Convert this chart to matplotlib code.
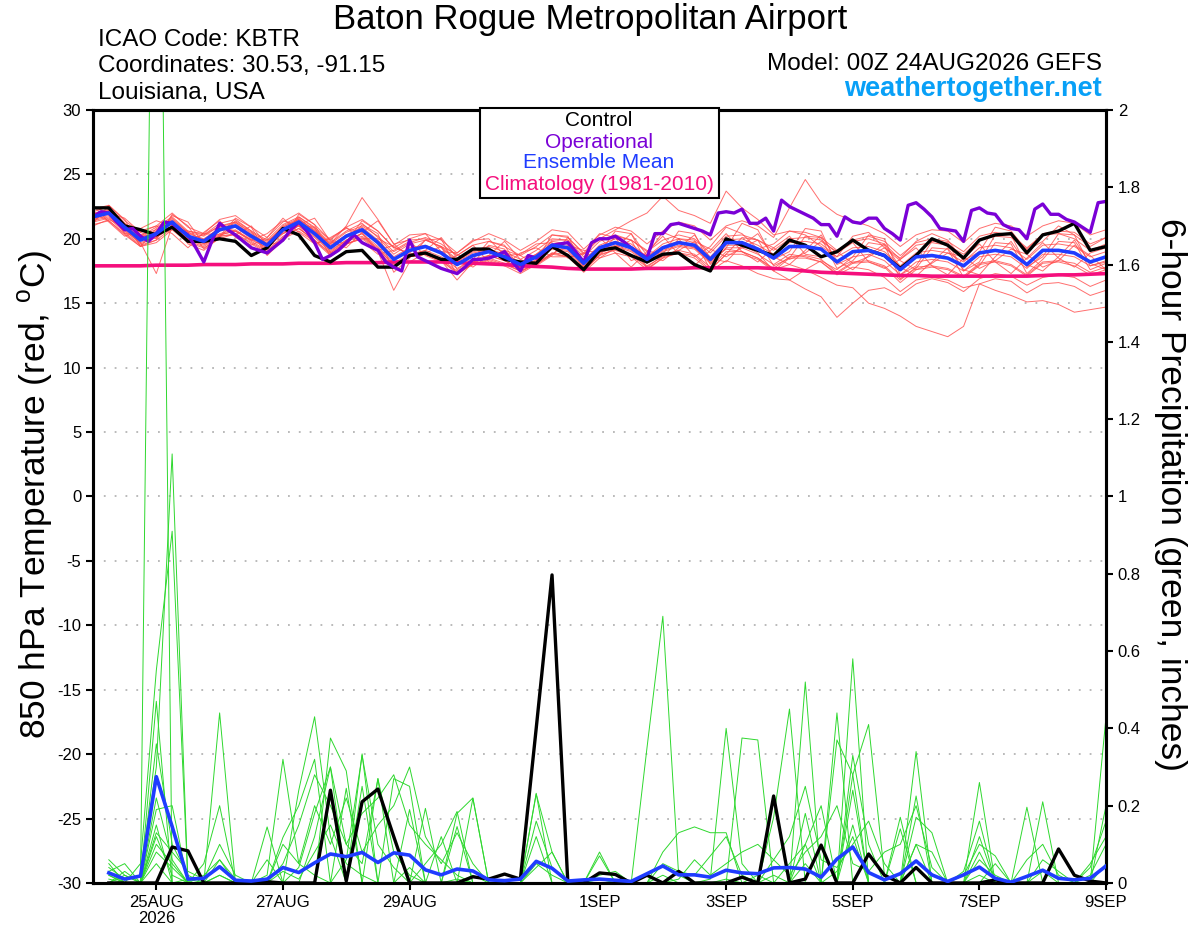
import numpy as np
import pandas as pd
import matplotlib.pyplot as plt
from matplotlib.patches import Rectangle

plt.rcParams['font.family'] = ['Liberation Sans', 'DejaVu Sans']
plt.rcParams['mathtext.fontset'] = 'custom'
plt.rcParams['mathtext.rm'] = 'Liberation Sans'
plt.rcParams['axes.unicode_minus'] = False

# time axes
temp_times = pd.date_range('2026-08-24 00:00', '2026-09-09 00:00', freq='6h')
oper_times = pd.date_range('2026-08-24 00:00', '2026-09-09 00:00', freq='3h')
precip_times = pd.date_range('2026-08-24 06:00', '2026-09-09 00:00', freq='6h')

tick_dates = pd.to_datetime(['2026-08-25', '2026-08-27', '2026-08-29', '2026-09-01',
                             '2026-09-03', '2026-09-05', '2026-09-07', '2026-09-09'])
tick_labels = ['25AUG\n2026', '27AUG', '29AUG', '1SEP', '3SEP', '5SEP', '7SEP', '9SEP']
temp_ticks = list(range(-30, 31, 5))
precip_ticks = [0, 0.2, 0.4, 0.6, 0.8, 1.0, 1.2, 1.4, 1.6, 1.8, 2.0]
precip_tick_labels = ['0', '0.2', '0.4', '0.6', '0.8', '1', '1.2', '1.4', '1.6', '1.8', '2']

# 850 hPa temperature (C)
control_temp = [
    22.4, 22.4, 21.0, 20.7, 20.3, 20.9, 19.8, 19.8, 20.0, 19.8,
    18.7, 19.3, 20.8, 20.3, 18.7, 18.2, 19.0, 19.1, 17.8, 17.8,
    18.7, 18.9, 18.4, 18.4, 19.2, 19.2, 18.4, 18.2, 18.1, 19.4,
    18.7, 17.6, 19.1, 19.3, 18.7, 18.2, 18.8, 18.9, 18.0, 17.5,
    20.0, 19.5, 19.1, 18.7, 19.9, 19.5, 18.6, 19.0, 19.9, 19.1,
    18.7, 17.7, 18.7, 20.0, 19.5, 18.5, 19.9, 20.3, 20.4, 18.9,
    20.3, 20.6, 21.2, 19.1, 19.4]

mean_temp = [
    21.7, 22.0, 20.9, 19.9, 20.4, 21.3, 20.2, 19.8, 20.7, 21.0,
    20.2, 19.5, 20.7, 21.3, 20.4, 19.3, 20.2, 20.7, 19.7, 18.4,
    19.1, 19.4, 18.9, 18.0, 18.7, 19.0, 18.6, 18.0, 18.6, 19.5,
    19.3, 18.1, 19.3, 19.7, 19.3, 18.4, 19.3, 19.7, 19.5, 18.4,
    19.7, 19.7, 19.2, 18.5, 19.4, 19.4, 19.2, 18.2, 19.0, 19.1,
    18.7, 17.6, 18.6, 18.7, 18.5, 17.9, 18.9, 19.1, 18.9, 18.0,
    19.1, 19.1, 18.9, 18.2, 18.6]

climo_temp = [
    17.9, 17.9, 17.9, 17.9, 17.95, 17.95, 17.95, 18.0, 18.0, 18.0,
    18.05, 18.05, 18.05, 18.1, 18.1, 18.1, 18.15, 18.15, 18.15, 18.2,
    18.2, 18.2, 18.2, 18.15, 18.1, 18.05, 18.0, 17.9, 17.85, 17.8,
    17.7, 17.65, 17.65, 17.65, 17.65, 17.7, 17.7, 17.7, 17.75, 17.75,
    17.75, 17.75, 17.75, 17.7, 17.6, 17.5, 17.4, 17.35, 17.3, 17.25,
    17.2, 17.15, 17.15, 17.1, 17.1, 17.1, 17.1, 17.1, 17.1, 17.1,
    17.15, 17.2, 17.2, 17.25, 17.3]

# operational run has 3-hourly output
oper_temp = [
    21.7, 22.1, 22.0, 21.3, 20.7, 20.8, 20.2, 19.8, 20.4, 21.3,
    21.2, 20.7, 20.3, 19.3, 18.2, 19.8, 21.2, 20.7, 20.3, 19.8,
    19.3, 19.1, 18.9, 19.4, 19.9, 20.7, 21.3, 20.6, 19.7, 18.4,
    18.7, 19.1, 19.7, 20.3, 19.7, 19.4, 19.1, 18.2, 17.8, 17.5,
    19.9, 18.6, 18.3, 18.0, 17.7, 17.5, 17.3, 17.8, 18.4, 18.4,
    18.5, 18.7, 19.0, 18.2, 17.5, 18.7, 18.5, 19.0, 19.5, 19.6,
    19.7, 19.0, 18.2, 19.7, 20.0, 20.0, 20.2, 19.8, 19.3, 18.9,
    18.5, 20.4, 20.4, 21.1, 21.2, 21.0, 20.8, 20.6, 20.3, 22.0,
    22.1, 22.0, 22.3, 21.2, 21.2, 21.6, 20.6, 23.0, 22.5, 22.2,
    21.9, 21.6, 21.1, 21.1, 20.2, 21.7, 21.3, 21.2, 21.6, 21.6,
    20.8, 20.4, 19.9, 22.6, 22.8, 22.3, 21.7, 20.8, 20.7, 20.6,
    19.8, 22.2, 22.4, 22.0, 21.9, 21.1, 20.8, 20.7, 20.0, 22.3,
    22.7, 21.9, 21.9, 21.5, 21.3, 20.9, 20.5, 22.8, 22.9]

member_temp = [
    [22.3, 22.6, 21.4, 20.5, 21.0, 22.0, 20.9, 20.4, 21.5, 21.8,
     20.9, 20.1, 21.3, 22.0, 21.1, 19.9, 20.9, 21.5, 20.6, 19.3,
     20.0, 20.4, 19.9, 18.9, 19.8, 20.4, 19.9, 19.1, 19.8, 20.7,
     20.5, 19.2, 20.3, 20.9, 20.6, 19.6, 20.6, 21.3, 21.0, 19.9,
     21.0, 21.4, 21.0, 20.1, 22.4, 24.6, 22.8, 21.9, 21.4, 21.0,
     20.4, 19.4, 20.3, 20.7, 20.6, 19.7, 20.8, 21.2, 21.0, 20.2,
     21.0, 21.4, 21.2, 20.3, 20.7],
    [21.5, 21.8, 20.7, 19.6, 20.1, 21.0, 19.9, 19.5, 20.3, 20.6,
     19.8, 19.1, 20.2, 20.8, 19.9, 18.8, 19.6, 20.1, 19.2, 18.0,
     18.6, 18.8, 18.3, 17.4, 18.0, 18.4, 18.0, 17.5, 18.1, 18.9,
     18.6, 17.6, 18.7, 19.2, 18.8, 17.9, 18.6, 18.9, 18.5, 17.5,
     18.3, 17.9, 17.3, 16.9, 16.8, 16.1, 15.5, 13.9, 15.0, 16.0,
     16.2, 15.6, 16.5, 16.9, 16.6, 15.9, 16.9, 17.3, 17.1, 16.4,
     17.0, 17.2, 17.0, 16.3, 16.8],
    [21.9, 22.1, 21.0, 20.1, 20.5, 21.4, 20.4, 20.0, 20.8, 21.2,
     20.3, 19.7, 20.9, 21.5, 20.6, 19.5, 20.3, 20.9, 19.9, 18.6,
     19.3, 19.5, 19.0, 18.2, 18.9, 19.1, 18.7, 18.1, 18.8, 19.6,
     19.4, 18.3, 19.4, 19.8, 19.4, 18.6, 19.4, 19.8, 19.3, 18.3,
     19.2, 19.0, 18.5, 17.6, 18.0, 17.6, 17.0, 16.4, 16.2, 15.0,
     14.6, 14.0, 13.2, 12.8, 12.4, 13.2, 16.5, 16.9, 16.7, 15.8,
     16.5, 16.6, 16.3, 15.6, 16.0],
    [21.4, 21.7, 20.6, 19.7, 20.2, 21.0, 20.0, 19.6, 20.4, 20.7,
     19.9, 19.3, 20.4, 21.0, 20.1, 19.0, 19.9, 20.4, 19.4, 18.1,
     18.8, 19.1, 18.6, 17.7, 18.4, 18.7, 18.3, 17.7, 18.3, 19.2,
     19.0, 17.8, 19.0, 19.4, 19.0, 18.1, 19.0, 19.4, 19.2, 18.1,
     19.3, 19.3, 18.8, 18.0, 18.8, 18.6, 18.2, 17.2, 17.8, 17.6,
     17.0, 15.9, 16.8, 17.0, 16.8, 16.2, 16.5, 16.0, 15.6, 15.1,
     15.2, 14.9, 14.3, 14.5, 14.7],
    [22.1, 22.5, 21.2, 20.2, 20.9, 21.7, 20.6, 20.3, 21.2, 21.5,
     20.6, 19.9, 21.1, 21.7, 20.8, 19.7, 20.6, 21.2, 20.1, 18.8,
     19.6, 19.9, 19.4, 18.4, 19.1, 19.4, 19.0, 18.4, 19.1, 20.0,
     19.9, 18.6, 19.8, 20.3, 19.9, 19.0, 19.9, 20.3, 20.0, 18.9,
     20.2, 20.3, 19.9, 19.1, 20.0, 20.1, 19.9, 18.9, 19.8, 20.0,
     19.6, 18.4, 19.5, 19.7, 19.5, 18.8, 19.9, 20.2, 20.1, 19.2,
     20.4, 20.6, 20.5, 19.6, 20.1],
    [21.3, 21.6, 20.5, 19.5, 19.9, 20.8, 19.8, 19.4, 20.2, 20.4,
     19.7, 19.0, 20.1, 20.8, 19.9, 18.9, 19.8, 20.2, 19.3, 17.9,
     18.6, 18.9, 18.4, 17.5, 18.2, 18.5, 18.1, 17.5, 18.0, 18.9,
     18.8, 17.6, 18.8, 19.1, 18.7, 17.8, 18.7, 19.1, 18.8, 17.8,
     19.0, 19.0, 18.5, 17.7, 18.6, 18.7, 18.4, 17.4, 18.2, 18.3,
     17.9, 16.8, 17.8, 17.9, 17.7, 17.1, 18.1, 18.3, 18.0, 17.2,
     18.2, 18.3, 18.1, 17.4, 17.8],
    [22.0, 22.2, 21.1, 20.0, 20.6, 21.6, 20.5, 19.9, 20.9, 21.3,
     20.4, 19.6, 21.0, 21.6, 20.6, 19.6, 21.0, 23.2, 21.5, 19.6,
     19.9, 20.0, 19.3, 18.3, 19.0, 19.2, 18.8, 18.2, 18.8, 19.8,
     19.6, 18.3, 19.5, 20.0, 19.6, 18.6, 19.6, 20.0, 19.7, 18.6,
     19.9, 20.0, 19.5, 18.8, 19.7, 19.8, 19.6, 18.6, 19.3, 19.4,
     19.0, 17.9, 18.9, 19.1, 18.9, 18.2, 19.3, 19.5, 19.3, 18.4,
     19.5, 19.6, 19.4, 18.6, 19.0],
    [21.6, 21.9, 20.8, 19.7, 17.3, 21.0, 20.0, 19.7, 20.6, 20.9,
     20.0, 19.3, 20.5, 21.1, 20.2, 19.1, 19.9, 20.4, 19.0, 16.0,
     18.2, 18.9, 18.3, 16.8, 18.2, 18.7, 18.3, 17.7, 18.4, 19.3,
     19.1, 17.9, 19.1, 19.5, 19.1, 18.2, 19.1, 19.5, 19.3, 18.2,
     19.5, 19.5, 18.9, 17.5, 16.8, 17.6, 18.3, 17.6, 18.6, 18.8,
     18.3, 17.2, 18.2, 18.4, 18.2, 17.5, 18.6, 18.8, 18.6, 17.7,
     18.8, 18.8, 18.6, 17.9, 18.3],
    [21.2, 22.6, 21.5, 19.4, 19.9, 21.9, 21.0, 19.2, 20.2, 21.6,
     20.9, 18.8, 19.9, 21.9, 21.1, 18.9, 19.7, 21.4, 20.6, 19.3,
     18.9, 19.9, 20.0, 17.6, 18.4, 19.8, 19.5, 17.6, 18.3, 20.3,
     20.2, 17.8, 18.9, 20.6, 20.4, 18.1, 18.8, 20.6, 20.4, 18.0,
     19.3, 21.2, 20.7, 18.4, 19.0, 20.8, 20.6, 18.0, 18.6, 20.3,
     20.0, 17.2, 17.9, 19.8, 19.7, 17.5, 18.2, 20.3, 20.3, 17.8,
     18.6, 20.4, 20.3, 17.9, 18.2],
    [22.6, 21.3, 20.2, 20.6, 21.0, 20.4, 19.3, 20.5, 21.4, 20.1,
     19.5, 20.1, 21.6, 20.5, 19.6, 20.0, 20.9, 19.8, 18.8, 19.1,
     19.8, 18.7, 18.2, 18.7, 19.5, 18.2, 17.9, 18.9, 19.3, 18.6,
     18.6, 18.8, 20.1, 18.9, 17.8, 19.0, 20.2, 18.8, 17.9, 19.1,
     20.4, 19.0, 18.2, 19.3, 20.2, 18.8, 18.6, 18.9, 19.7, 18.2,
     17.7, 18.4, 19.3, 17.9, 17.2, 18.5, 19.6, 18.2, 17.3, 18.5,
     19.7, 18.5, 17.8, 18.9, 19.3],
    [21.9, 22.3, 21.2, 20.3, 20.7, 21.5, 20.5, 20.2, 21.0, 21.3,
     20.5, 19.8, 20.9, 21.5, 20.7, 19.6, 20.5, 21.0, 20.2, 19.0,
     19.7, 20.1, 19.6, 18.7, 19.5, 19.8, 19.4, 18.7, 19.4, 20.3,
     20.1, 18.8, 20.0, 20.7, 21.4, 22.0, 23.3, 22.2, 21.8, 21.2,
     23.7, 22.4, 21.5, 20.3, 20.6, 20.5, 20.1, 19.1, 19.9, 20.2,
     19.8, 18.7, 19.7, 20.0, 19.8, 19.0, 20.2, 20.5, 20.3, 19.3,
     20.3, 20.4, 20.0, 19.1, 19.6],
    [21.1, 21.4, 20.3, 19.4, 19.7, 20.7, 19.7, 19.3, 20.0, 20.4,
     19.6, 18.9, 20.0, 20.6, 19.8, 18.7, 19.6, 20.0, 19.1, 17.8,
     18.6, 18.8, 18.3, 17.3, 18.0, 18.3, 17.9, 17.3, 18.0, 18.8,
     18.6, 17.4, 18.5, 18.9, 18.6, 17.6, 18.5, 18.9, 18.7, 17.6,
     18.8, 18.8, 18.4, 17.5, 18.5, 18.5, 18.2, 17.3, 18.1, 18.2,
     17.8, 16.6, 17.6, 17.8, 17.6, 17.0, 18.0, 18.2, 17.9, 17.1,
     18.1, 18.2, 17.9, 17.2, 17.6],
    [21.0, 21.5, 20.9, 20.8, 21.4, 21.0, 20.0, 20.3, 21.0, 20.6,
     19.9, 20.4, 21.4, 21.0, 19.6, 20.1, 20.8, 20.5, 19.1, 19.5,
     20.3, 20.4, 19.0, 18.9, 19.9, 20.0, 18.7, 18.8, 19.6, 19.7,
     18.5, 18.9, 20.4, 20.1, 18.3, 18.8, 20.5, 20.0, 18.6, 19.4,
     20.9, 20.4, 19.2, 19.6, 20.6, 20.3, 19.4, 18.6, 20.2, 20.5,
     19.3, 18.5, 19.8, 20.4, 19.9, 18.3, 19.0, 20.9, 20.6, 19.1,
     19.8, 21.0, 20.3, 19.4, 20.1],
    [22.0, 21.4, 20.4, 19.4, 20.8, 21.4, 19.6, 19.1, 20.1, 21.4,
     20.6, 18.7, 19.9, 21.7, 20.9, 18.6, 19.5, 21.1, 20.4, 17.4,
     18.5, 19.9, 19.4, 17.2, 18.1, 19.5, 19.2, 17.4, 18.1, 19.9,
     19.9, 17.5, 18.7, 20.2, 19.9, 17.7, 18.5, 20.0, 19.9, 17.6,
     18.8, 20.1, 19.9, 17.9, 18.5, 20.2, 20.1, 17.7, 18.3, 19.7,
     19.5, 16.9, 17.7, 19.3, 19.2, 17.0, 17.9, 19.7, 19.6, 17.3,
     18.4, 19.8, 19.7, 17.6, 18.1],
    [21.4, 22.2, 20.4, 20.3, 20.1, 20.9, 20.6, 20.4, 20.3, 20.6,
     19.9, 19.9, 20.4, 21.0, 20.9, 19.9, 19.6, 20.0, 20.0, 19.4,
     18.8, 18.9, 19.4, 18.8, 18.1, 18.6, 19.1, 18.7, 18.0, 18.8,
     19.5, 19.1, 18.9, 19.3, 19.9, 19.1, 18.7, 19.1, 19.8, 19.2,
     18.6, 19.3, 19.9, 19.3, 18.4, 18.9, 19.8, 19.0, 18.1, 18.6,
     19.3, 18.3, 17.6, 18.1, 18.9, 18.6, 17.7, 18.3, 19.2, 18.8,
     17.8, 18.3, 19.5, 18.7, 17.6],
    [22.5, 22.0, 21.6, 20.5, 20.0, 21.8, 21.3, 19.6, 20.2, 20.3,
     21.0, 19.5, 19.8, 21.1, 21.6, 19.8, 19.3, 20.5, 21.4, 19.6,
     18.6, 19.1, 20.1, 18.5, 17.8, 18.7, 19.8, 18.4, 17.9, 18.7,
     20.1, 18.9, 18.5, 19.3, 20.4, 18.7, 18.3, 19.3, 20.3, 18.5,
     18.2, 19.5, 20.4, 18.6, 18.0, 19.1, 20.3, 18.3, 17.6, 18.7,
     19.6, 17.8, 17.1, 18.2, 19.3, 17.6, 17.2, 18.6, 19.8, 18.0,
     17.5, 18.6, 19.9, 18.1, 17.6],
]

# 6-hour precipitation (inches)
control_precip = [
    0, 0, 0, 0, 0.093, 0.083, 0, 0, 0, 0, 0.003, 0, 0, 0, 0.24, 0.005,
    0.21, 0.243, 0.12, 0, 0, 0, 0, 0.016, 0.01, 0.023, 0.01, 0.4, 0.797, 0, 0, 0.026,
    0.022, 0, 0.02, 0, 0.03, 0, 0, 0, 0.015, 0, 0.225, 0, 0.01, 0.098, 0, 0,
    0.075, 0.02, 0, 0.04, 0, 0, 0, 0, 0.008, 0, 0, 0, 0.088, 0.02, 0.005, 0]

mean_precip = [
    0.026, 0.01, 0.018, 0.275, 0.146, 0.01, 0.012, 0.042, 0.007, 0.005, 0.01, 0.04, 0.027, 0.052, 0.075, 0.068,
    0.079, 0.053, 0.078, 0.072, 0.034, 0.021, 0.036, 0.031, 0.008, 0.006, 0.01, 0.056, 0.038, 0.005, 0.008, 0.01,
    0.007, 0.004, 0.024, 0.044, 0.021, 0.021, 0.015, 0.033, 0.026, 0.024, 0.039, 0.04, 0.036, 0.015, 0.062, 0.093,
    0.027, 0.008, 0.024, 0.057, 0.021, 0.004, 0.021, 0.041, 0.012, 0.002, 0.017, 0.033, 0.012, 0.008, 0.012, 0.044]

member_precip = [
    [0.02, 0, 0, 3.55, 0, 0.01, 0, 0.02, 0, 0, 0, 0.03, 0.01, 0.08, 0.15, 0.05,
     0.02, 0, 0, 0.04, 0, 0, 0.01, 0, 0, 0, 0, 0.05, 0.02, 0, 0, 0,
     0, 0, 0.35, 0.69, 0.02, 0, 0, 0.01, 0, 0, 0.02, 0, 0.05, 0, 0.03, 0.12,
     0, 0, 0, 0.04, 0, 0, 0, 0.02, 0, 0, 0, 0.03, 0, 0, 0, 0],
    [0.04, 0.01, 0.02, 0.3, 1.11, 0, 0.02, 0.06, 0.01, 0, 0, 0, 0.04, 0.18, 0.3, 0.1,
     0.05, 0.27, 0.08, 0.02, 0, 0, 0, 0.02, 0, 0, 0, 0, 0, 0, 0, 0.01,
     0, 0, 0, 0.02, 0, 0, 0, 0, 0, 0.02, 0, 0.05, 0.1, 0, 0, 0.28,
     0.41, 0.02, 0, 0, 0, 0, 0.03, 0.16, 0, 0, 0, 0, 0, 0, 0.05, 0.12],
    [0.01, 0, 0.05, 0.55, 0.91, 0, 0, 0, 0, 0, 0.02, 0.32, 0.05, 0.02, 0, 0.06,
     0.33, 0.1, 0.04, 0, 0, 0, 0, 0, 0, 0, 0, 0.23, 0.08, 0, 0, 0,
     0, 0, 0, 0, 0, 0, 0.01, 0.4, 0.05, 0, 0, 0, 0, 0, 0, 0,
     0, 0, 0, 0.34, 0, 0, 0, 0, 0, 0, 0, 0.21, 0, 0, 0, 0],
    [0, 0, 0, 0.36, 0.1, 0.02, 0, 0.44, 0, 0, 0, 0, 0.24, 0.43, 0.12, 0,
     0, 0, 0.27, 0.25, 0, 0, 0.18, 0.22, 0, 0, 0, 0, 0, 0, 0, 0.07,
     0, 0, 0, 0.08, 0.13, 0.145, 0.13, 0.13, 0, 0, 0, 0, 0, 0, 0, 0.58,
     0, 0, 0, 0, 0, 0, 0, 0, 0, 0, 0, 0, 0, 0, 0, 0],
    [0.06, 0.02, 0, 0.19, 0.2, 0, 0.05, 0.2, 0, 0, 0.145, 0, 0, 0, 0.375, 0.29,
     0, 0, 0, 0.19, 0, 0, 0, 0, 0, 0, 0, 0, 0, 0, 0, 0,
     0, 0, 0, 0, 0, 0, 0, 0, 0.375, 0.37, 0, 0, 0.52, 0, 0, 0,
     0, 0, 0.17, 0, 0, 0, 0, 0, 0, 0, 0.196, 0, 0, 0, 0, 0.43],
    [0, 0.03, 0, 0.1, 0.05, 0, 0, 0.06, 0, 0, 0, 0.118, 0.2, 0.32, 0, 0.245,
     0, 0, 0, 0, 0.193, 0, 0.146, 0, 0, 0, 0, 0, 0, 0, 0, 0,
     0, 0, 0, 0, 0, 0, 0, 0, 0, 0, 0.17, 0.45, 0, 0, 0.44, 0,
     0, 0, 0, 0.225, 0, 0, 0, 0.26, 0, 0, 0, 0, 0, 0, 0, 0],
    [0.03, 0, 0, 0.15, 0, 0, 0, 0, 0, 0, 0, 0, 0, 0, 0, 0,
     0.334, 0, 0, 0, 0.05, 0.1, 0.185, 0, 0, 0, 0, 0, 0, 0, 0, 0,
     0, 0, 0, 0, 0, 0, 0, 0, 0, 0, 0, 0, 0, 0, 0.37, 0.28,
     0, 0, 0, 0.17, 0.13, 0, 0, 0, 0.05, 0, 0, 0, 0, 0, 0, 0.2],
    [0, 0, 0, 0.47, 0, 0, 0, 0, 0, 0, 0, 0, 0, 0, 0, 0,
     0, 0.27, 0, 0, 0, 0, 0, 0.219, 0, 0, 0, 0.232, 0, 0, 0, 0,
     0, 0, 0, 0, 0, 0, 0, 0, 0, 0, 0, 0, 0, 0, 0, 0.24,
     0, 0, 0, 0, 0, 0, 0, 0, 0, 0, 0, 0, 0, 0, 0, 0],
    [0.02, 0, 0, 0.08, 0.04, 0, 0, 0, 0, 0, 0, 0, 0, 0.12, 0.3, 0,
     0.25, 0, 0, 0, 0, 0, 0, 0, 0, 0, 0, 0.12, 0, 0, 0, 0,
     0, 0, 0, 0, 0, 0, 0, 0, 0, 0, 0, 0, 0.18, 0, 0, 0.33,
     0.1, 0, 0, 0.1, 0, 0, 0, 0.08, 0, 0, 0, 0, 0, 0, 0, 0.05],
    [0, 0, 0, 0.05, 0, 0, 0, 0, 0, 0, 0.06, 0, 0, 0, 0, 0,
     0, 0, 0, 0, 0, 0.12, 0, 0, 0, 0, 0, 0, 0, 0, 0, 0,
     0, 0, 0, 0, 0, 0, 0, 0, 0, 0, 0, 0, 0.1, 0.2, 0, 0.15,
     0, 0, 0, 0, 0, 0, 0, 0, 0, 0, 0, 0, 0, 0, 0, 0],
    [0.05, 0, 0, 0.12, 0.02, 0, 0, 0, 0, 0, 0, 0, 0, 0, 0, 0,
     0, 0, 0, 0, 0, 0, 0, 0, 0, 0, 0, 0, 0, 0, 0, 0.08,
     0, 0, 0, 0, 0, 0, 0, 0, 0, 0, 0, 0, 0, 0, 0, 0,
     0, 0, 0.14, 0, 0, 0, 0, 0.12, 0, 0, 0, 0, 0, 0, 0, 0],
    [0.03, 0.05, 0, 0.22, 0.06, 0, 0, 0.02, 0, 0, 0, 0.05, 0.15, 0.28, 0.2, 0.1,
     0.18, 0.22, 0.28, 0.15, 0.1, 0.06, 0.02, 0, 0, 0, 0, 0.04, 0.08, 0, 0, 0,
     0, 0, 0, 0, 0.01, 0.06, 0.02, 0.05, 0.08, 0.1, 0.06, 0.12, 0.25, 0.06, 0.04, 0.1,
     0.16, 0.05, 0, 0.1, 0.08, 0, 0.02, 0.1, 0.07, 0, 0, 0.06, 0.03, 0, 0.02, 0.1],
    [0, 0.02, 0, 0.13, 0.08, 0.03, 0.01, 0.1, 0.02, 0, 0, 0.1, 0.05, 0.2, 0.1, 0.22,
     0.08, 0.15, 0.2, 0.3, 0.12, 0.05, 0.13, 0.05, 0, 0, 0, 0.16, 0.04, 0, 0, 0.02,
     0.03, 0, 0, 0.05, 0.03, 0.02, 0.07, 0.12, 0.02, 0, 0.06, 0.02, 0.08, 0.12, 0.2, 0.05,
     0.03, 0.08, 0.1, 0.2, 0.04, 0, 0, 0.06, 0.02, 0, 0.06, 0.1, 0.02, 0, 0.04, 0.16],
]

fig = plt.figure(figsize=(12, 9.27), dpi=100)
ax = fig.add_axes([0.0775, 0.0475, 0.8442, 0.8339])
ax2 = ax.twinx()

for m in member_temp:
    ax.plot(temp_times, m, color='#ff4a4a', lw=0.7, alpha=0.8, zorder=2)
ax.plot(temp_times, climo_temp, color='#f50f7d', lw=2.6, zorder=3)
ax.plot(temp_times, control_temp, color='black', lw=2.4, zorder=4)
ax.plot(oper_times, oper_temp, color='#7a00d6', lw=2.4, zorder=5)
ax.plot(temp_times, mean_temp, color='#1f3cff', lw=2.6, zorder=6)

for m in member_precip:
    ax2.plot(precip_times, m, color='#2ed82e', lw=0.7, zorder=2)
ax2.plot(precip_times, control_precip, color='black', lw=2.4, zorder=4)
ax2.plot(precip_times, mean_precip, color='#1f3cff', lw=2.6, zorder=5)

ax.set_xlim(temp_times[0], temp_times[-1])
ax.set_ylim(-30, 30)
ax.set_yticks(temp_ticks)
ax.set_xticks(tick_dates)
ax.set_xticklabels(tick_labels, fontsize=12, linespacing=1.1)
ax.tick_params(axis='y', labelsize=12)
ax.tick_params(direction='out', length=5, width=1.5)
ax.grid(axis='y', color='#b4b4b4', linestyle=(0, (1, 5)), linewidth=1.3)

ax2.set_ylim(0, 2)
ax2.set_yticks(precip_ticks)
ax2.set_yticklabels(precip_tick_labels, fontsize=12)
ax2.tick_params(direction='out', length=5, width=1.5)

for a in (ax, ax2):
    for s in a.spines.values():
        s.set_linewidth(2.2)

# header text
fig.text(0.492, 1 - 19 / 927, 'Baton Rogue Metropolitan Airport', ha='center', va='center', fontsize=25)
fig.text(98 / 1200, 1 - 40 / 927, 'ICAO Code: KBTR', ha='left', va='center', fontsize=17.5)
fig.text(98 / 1200, 1 - 66 / 927, 'Coordinates: 30.53, -91.15', ha='left', va='center', fontsize=17.5)
fig.text(98 / 1200, 1 - 93 / 927, 'Louisiana, USA', ha='left', va='center', fontsize=17.5)
fig.text(1102 / 1200, 1 - 64 / 927, 'Model: 00Z 24AUG2026 GEFS', ha='right', va='center', fontsize=17.5)
fig.text(1102 / 1200, 1 - 89 / 927, 'weathertogether.net', ha='right', va='center', fontsize=19.5,
         fontweight='bold', color='#08a0f7')

# axis titles
fig.text(35 / 1200, 1 - 495 / 927, r'850 hPa Temperature (red, $^{\rm o}$C)', rotation=90,
         ha='center', va='center', fontsize=25.5)
fig.text(1171 / 1200, 1 - 495 / 927, '6-hour Precipitation (green, inches)', rotation=270,
         ha='center', va='center', fontsize=25.5)

# legend box
fig.patches.append(Rectangle((480 / 1200, 1 - 198 / 927), 239 / 1200, 90 / 927,
                             transform=fig.transFigure, facecolor='white', edgecolor='black',
                             lw=1.5, zorder=10))
legend_items = [('Control', 'black', 121), ('Operational', '#7a00d6', 142),
                ('Ensemble Mean', '#1f3cff', 163), ('Climatology (1981-2010)', '#f50f7d', 185)]
for label, col, ypix in legend_items:
    fig.text(599 / 1200, 1 - ypix / 927, label, ha='center', va='center', fontsize=15,
             color=col, zorder=11)

fig.savefig('out.png', dpi=100)
